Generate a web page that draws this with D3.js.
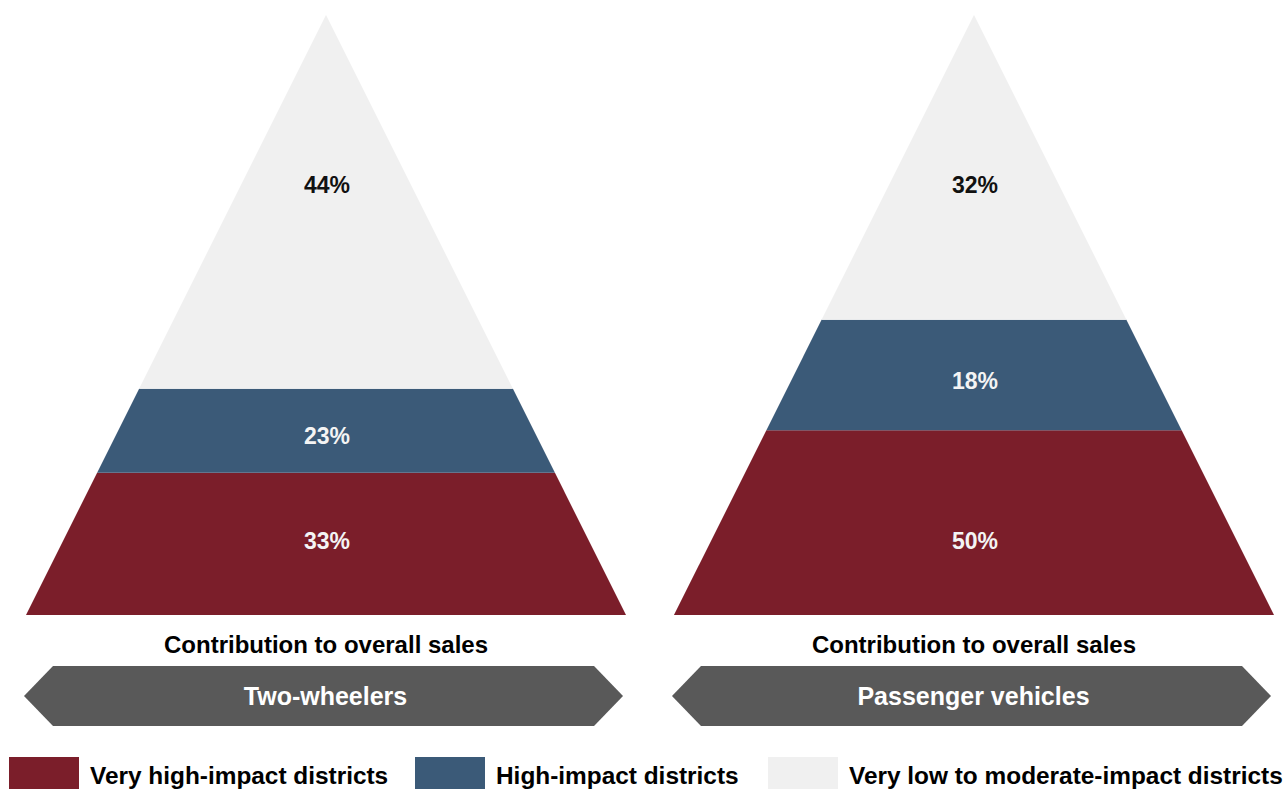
<!DOCTYPE html>
<html>
<head>
<meta charset="utf-8">
<script src="https://cdn.jsdelivr.net/npm/d3@7"></script>
<style>
  html, body { margin: 0; padding: 0; background: #fff; }
  svg { display: block; font-family: "Liberation Sans", Arial, sans-serif; font-weight: bold; }
</style>
</head>
<body>
<script>
// vehicle types (one pyramid each)
const vehicleTypes = ["Two-wheelers", "Passenger vehicles"];

// district segments, bottom to top
const segments = ["Very high-impact districts", "High-impact districts", "Very low to moderate-impact districts"];
const segmentColors = ["#7b1e2a", "#3b5a78", "#f0f0f0"];
const labelColors = ["#f4f4f4", "#f4f4f4", "#111"];

// contribution to overall sales (%), bottom to top
const twoWheelerShares = [33, 23, 44];
const passengerShares = [50, 18, 32];

const axisCaption = "Contribution to overall sales";

// band edges as a share of pyramid height (bottom -> top), as drawn in the original
const bandEdges = [[0, 0.237, 0.377, 1], [0, 0.308, 0.492, 1]];
// where each % label sits (share of pyramid height)
const labelLevels = [[0.123, 0.298, 0.717], [0.123, 0.39, 0.717]];

const width = 1283, height = 789;
const pyrTop = 15, pyrBase = 615;

const svg = d3.select("body").append("svg")
    .attr("width", width)
    .attr("height", height);

// x: one band per vehicle type
const xBand = d3.scaleBand()
    .domain(vehicleTypes)
    .range([26, 1274])
    .paddingInner(0.074)
    .paddingOuter(0);

// y: share of pyramid height -> pixels
const yLevel = d3.scaleLinear().domain([0, 1]).range([pyrBase, pyrTop]);

const allShares = [twoWheelerShares, passengerShares];

vehicleTypes.forEach((vt, vi) => {
    const x0 = xBand(vt);
    const half = xBand.bandwidth() / 2;
    const cx = x0 + half;
    // half width of the pyramid at a given level
    const halfW = d3.scaleLinear().domain([0, 1]).range([half, 0]);

    const rows = allShares[vi].map((v, i) => ({
        value: v,
        seg: i,
        lo: bandEdges[vi][i],
        hi: bandEdges[vi][i + 1],
        lab: labelLevels[vi][i]
    }));

    const g = svg.append("g").attr("class", "pyramid");

    g.selectAll("path.band")
        .data(rows)
        .enter()
        .append("path")
        .attr("class", "band")
        .attr("fill", d => segmentColors[d.seg])
        .attr("d", d => {
            const pts = [
                [cx - halfW(d.lo), yLevel(d.lo)],
                [cx + halfW(d.lo), yLevel(d.lo)],
                [cx + halfW(d.hi), yLevel(d.hi)],
                [cx - halfW(d.hi), yLevel(d.hi)]
            ];
            return "M" + pts.join("L") + "Z";
        });

    g.selectAll("text.pct")
        .data(rows)
        .enter()
        .append("text")
        .attr("class", "pct")
        .attr("x", cx + 1)
        .attr("y", d => yLevel(d.lab))
        .attr("dy", "0.36em")
        .attr("text-anchor", "middle")
        .attr("font-size", 23)
        .attr("fill", d => labelColors[d.seg])
        .text(d => d.value + "%");

    // caption under pyramid
    g.append("text")
        .attr("x", cx)
        .attr("y", 644)
        .attr("dy", "0.36em")
        .attr("text-anchor", "middle")
        .attr("font-size", 24)
        .attr("fill", "#000")
        .text(axisCaption);

    // double-pointed banner
    const bx0 = x0 - 2, bx1 = x0 + xBand.bandwidth() - 3;
    const by0 = 666, by1 = 726, bm = (by0 + by1) / 2, tip = 29;
    g.append("path")
        .attr("fill", "#595959")
        .attr("d", `M${bx0},${bm}L${bx0 + tip},${by0}L${bx1 - tip},${by0}L${bx1},${bm}L${bx1 - tip},${by1}L${bx0 + tip},${by1}Z`);

    g.append("text")
        .attr("x", (bx0 + bx1) / 2 + 2)
        .attr("y", bm)
        .attr("dy", "0.36em")
        .attr("text-anchor", "middle")
        .attr("font-size", 25)
        .attr("fill", "#fff")
        .text(vt);
});

// legend
const legendX = [9, 415, 768];
const legend = svg.append("g").attr("class", "legend");

legend.selectAll("rect")
    .data(segments)
    .enter()
    .append("rect")
    .attr("x", (d, i) => legendX[i])
    .attr("y", 757)
    .attr("width", 70)
    .attr("height", 40)
    .attr("fill", (d, i) => segmentColors[i]);

legend.selectAll("text")
    .data(segments)
    .enter()
    .append("text")
    .attr("x", (d, i) => legendX[i] + 81)
    .attr("y", 784)
    .attr("font-size", 24.4)
    .attr("fill", "#000")
    .text(d => d);
</script>
</body>
</html>
